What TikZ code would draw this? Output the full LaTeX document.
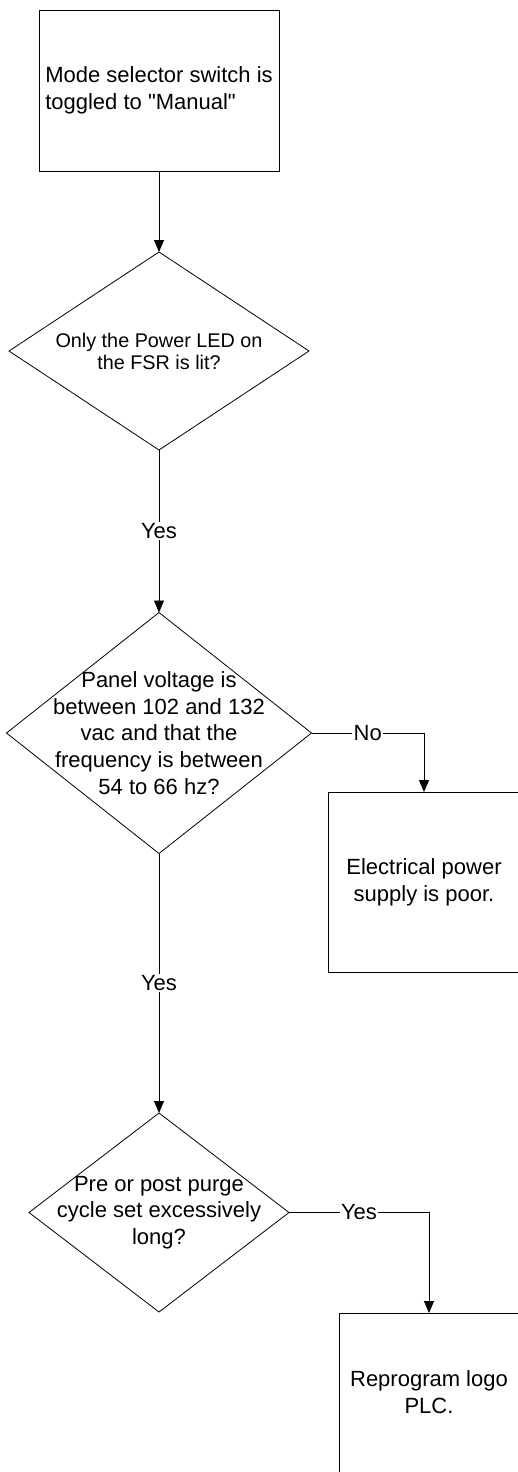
\documentclass[tikz,border=0pt]{standalone}
\usepackage{fontspec}
\setmainfont{Liberation Sans}[Ligatures=TeXOff]
\usetikzlibrary{shapes.geometric,arrows.meta}
\tikzset{
  box/.style={draw, line width=0.8pt, rectangle, inner sep=0pt, outer sep=0pt},
  dia/.style={draw, line width=0.8pt, diamond, inner sep=0pt, outer sep=0pt},
  txt/.style={align=center, font=\fontsize{22}{26.8}\selectfont, inner sep=0pt},
  stxt/.style={align=center, font=\fontsize{19.8}{22}\selectfont, inner sep=0pt},
  conn/.style={line width=0.8pt, -{Triangle[length=12pt,width=10pt]}},
  lbl/.style={fill=white, inner sep=1.5pt, font=\fontsize{22}{26}\selectfont}
}
\begin{document}
\begin{tikzpicture}[x=1pt,y=-1pt]
\useasboundingbox (0,0) rectangle (518,1472);
\clip (0,0) rectangle (518,1472);
\node[box, minimum width=240pt, minimum height=161pt] (b1) at (159,90.5) {};
\node[txt, align=left] at (b1.center) {Mode selector switch is\\toggled to "Manual"};
\node[dia, minimum width=300pt, minimum height=198pt] (d1) at (159,351) {};
\node[stxt] at (d1.center) {Only the Power LED on\\the FSR is lit?};
\node[dia, minimum width=305pt, minimum height=241pt] (d2) at (159,733) {};
\node[txt] at (d2.center) {Panel voltage is\\between 102 and 132\\vac and that the\\frequency is between\\54 to 66 hz?};
\node[box, minimum width=192pt, minimum height=180pt] (b2) at (424,882) {};
\node[txt] at (b2.center) {Electrical power\\supply is poor.};
\node[dia, minimum width=260pt, minimum height=199pt] (d3) at (159,1212.5) {};
\node[txt] at (d3.center) {Pre or post purge\\cycle set excessively\\long?};
\node[box, minimum width=180pt, minimum height=180pt] (b3) at (429,1403) {};
\node[txt] at (429,1392) {Reprogram logo\\PLC.};
\draw[conn] (b1.south) -- (d1.north);
\draw[conn] (d1.south) -- node[lbl]{Yes} (d2.north);
\draw[conn] (d2.east) -| node[lbl, pos=0.25]{No} (b2.north);
\draw[conn] (d2.south) -- node[lbl]{Yes} (d3.north);
\draw[conn] (d3.east) -| node[lbl, pos=0.25]{Yes} (b3.north);
\end{tikzpicture}
\end{document}
